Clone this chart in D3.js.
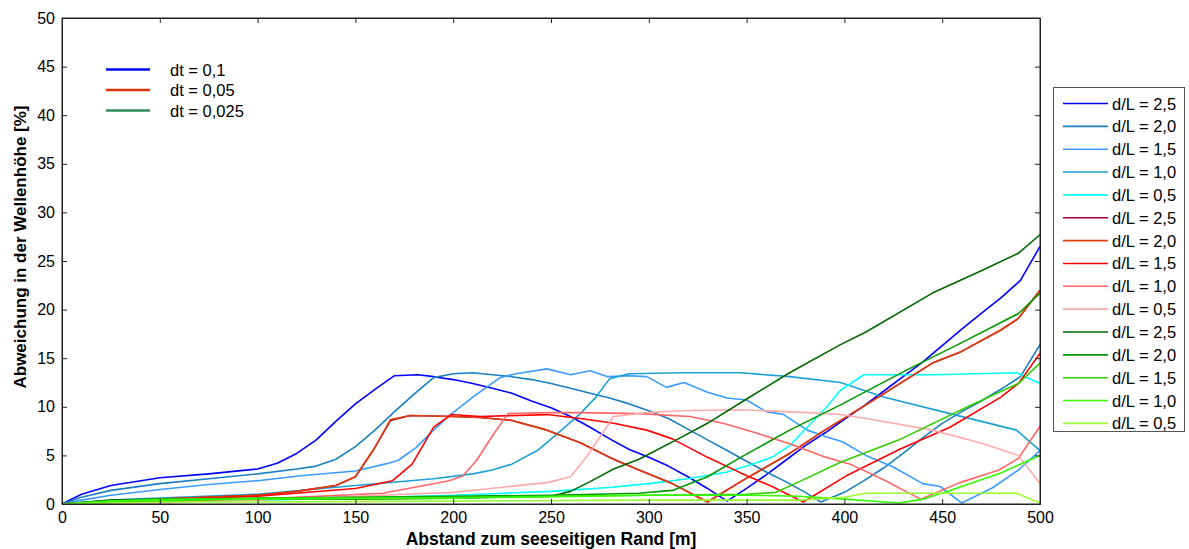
<!DOCTYPE html>
<html><head><meta charset="utf-8">
<script src="https://cdn.jsdelivr.net/npm/d3@7"></script>
<style>
body{margin:0;background:#fff;}
svg{font-family:"Liberation Sans",Arial,sans-serif;}
</style></head>
<body><svg id="c" width="1189" height="549"></svg>
<script>
// ---- data (x in m, y in %) ----
const xTicks = [0,50,100,150,200,250,300,350,400,450,500];
const yTicks = [0,5,10,15,20,25,30,35,40,45,50];
const dtLabels = ["dt = 0,1","dt = 0,05","dt = 0,025"];
const dtColors = ["#0000ff","#e0300c","#2e8b57"];
const seriesLabels = ["d/L = 2,5","d/L = 2,0","d/L = 1,5","d/L = 1,0","d/L = 0,5",
                      "d/L = 2,5","d/L = 2,0","d/L = 1,5","d/L = 1,0","d/L = 0,5",
                      "d/L = 2,5","d/L = 2,0","d/L = 1,5","d/L = 1,0","d/L = 0,5"];
const seriesColors = ["#0000ff","#1a7fc0","#3b9bff","#1ba0d4","#00ffff",
                      "#990033","#e0400f","#ff0000","#ff6666","#ffaaaa",
                      "#006600","#009900","#33cc00","#33ff00","#99ff33"];

// dt = 0,1
const b25 = [[0,0],[10,1.0],[25,1.9],[50,2.7],[75,3.1],[100,3.6],[110,4.2],[120,5.2],[130,6.6],[140,8.5],[150,10.3],[160,11.8],[170,13.2],[182,13.3],[190,13.1],[200,12.8],[210,12.4],[220,11.9],[230,11.4],[240,10.6],[250,9.9],[260,9.0],[270,7.9],[280,6.7],[290,5.6],[300,4.8],[310,3.9],[320,2.8],[330,1.6],[340,0.3],[350,1.6],[360,3.0],[370,4.5],[380,6.0],[390,7.3],[400,8.7],[410,10.1],[420,11.6],[430,13.1],[440,14.6],[450,16.3],[460,18.0],[470,19.6],[480,21.2],[490,23.0],[500,26.5]];
const b20 = [[0,0],[10,0.7],[25,1.4],[50,2.1],[75,2.6],[100,3.1],[120,3.6],[130,3.9],[140,4.6],[150,5.9],[160,7.6],[170,9.5],[180,11.3],[190,13.0],[200,13.4],[210,13.5],[220,13.3],[230,13.1],[240,12.8],[250,12.4],[260,11.9],[270,11.4],[280,10.9],[290,10.3],[300,9.6],[310,8.8],[320,7.7],[330,6.6],[340,5.5],[350,4.4],[360,3.3],[370,2.3],[380,1.2],[388,0.2],[400,1.2],[410,2.4],[420,3.7],[430,5.2],[440,6.8],[450,8.3],[460,9.5],[470,10.6],[480,11.8],[490,13.1],[500,16.4]];
const b15 = [[0,0],[10,0.4],[25,0.9],[50,1.5],[75,2.0],[100,2.4],[122,2.9],[150,3.4],[165,4.1],[172,4.5],[181,5.8],[190,7.6],[198,9.1],[210,11.0],[224,13.0],[232,13.4],[248,13.9],[260,13.3],[270,13.7],[279,13.1],[290,13.2],[299,13.1],[309,12.0],[318,12.5],[330,11.5],[340,10.9],[350,10.7],[360,9.5],[369,9.2],[381,7.6],[391,6.9],[399,6.4],[411,5.0],[425,3.8],[440,2.1],[449,1.8],[460,0.1],[476,1.7],[489,3.5],[500,5.5]];
const b10 = [[0,0],[25,0.4],[50,0.6],[100,1.0],[150,1.9],[190,2.6],[210,3.1],[220,3.5],[230,4.1],[243,5.5],[253,7.2],[265,9.3],[273,11.0],[280,12.9],[290,13.4],[316,13.5],[347,13.5],[372,13.1],[398,12.5],[420,11.0],[454,9.3],[488,7.6],[500,5.5]];
const b05 = [[0,0],[50,0.2],[100,0.4],[150,0.6],[200,0.9],[250,1.3],[280,1.7],[300,2.1],[320,2.6],[340,3.3],[350,3.9],[363,4.8],[372,6.0],[381,7.9],[391,10.0],[398,11.7],[410,13.3],[445,13.3],[488,13.5],[500,12.4]];
// dt = 0,05
const r25 = [[0,0],[50,0.5],[100,0.9],[120,1.3],[140,1.9],[150,2.8],[159,5.5],[168,8.6],[178,9.1],[200,9.0],[214,8.9],[230,8.6],[248,7.6],[265,6.3],[282,4.6],[295,3.5],[312,2.1],[330,0.2],[347,2.3],[372,5.2],[390,7.6],[411,10.2],[445,14.5],[459,15.6],[480,17.9],[489,19.1],[500,22.0]];
const r20 = [[0,0],[50,0.5],[100,0.9],[120,1.3],[140,1.9],[150,2.8],[159,5.5],[168,8.7],[178,9.1],[200,9.0],[214,8.9],[230,8.6],[248,7.6],[265,6.3],[282,4.6],[295,3.5],[312,2.1],[330,0.2],[347,2.3],[372,5.2],[390,7.6],[411,10.2],[445,14.5],[459,15.6],[480,17.9],[489,19.1],[500,22.0]];
const r15 = [[0,0],[50,0.4],[100,0.8],[150,1.6],[169,2.4],[179,4.1],[190,7.9],[199,9.2],[214,9.0],[248,9.2],[265,8.8],[282,8.3],[299,7.6],[312,6.7],[330,4.8],[347,3.2],[363,1.8],[379,0.2],[401,2.9],[428,5.6],[454,7.9],[480,11.0],[489,12.4],[500,15.5]];
const r10 = [[0,0],[50,0.2],[100,0.5],[164,1.1],[198,2.4],[205,2.9],[212,4.5],[220,7.0],[228,9.3],[250,9.4],[265,9.4],[295,9.3],[321,9.0],[338,8.3],[355,7.3],[372,6.2],[389,4.9],[403,4.1],[420,2.5],[439,0.5],[459,2.2],[479,3.5],[489,4.7],[500,8.0]];
const r05 = [[0,0],[50,0.1],[100,0.4],[150,0.8],[200,1.2],[248,2.2],[260,2.8],[268,4.8],[275,6.9],[282,9.0],[299,9.4],[316,9.6],[347,9.7],[381,9.4],[398,9.2],[411,8.8],[445,7.6],[471,6.2],[489,5.0],[500,2.1]];
// dt = 0,025
const g25 = [[0,0],[25,0.4],[50,0.5],[100,0.5],[150,0.5],[200,0.6],[250,0.8],[260,1.3],[270,2.3],[282,3.6],[295,4.6],[316,6.8],[330,8.3],[350,10.8],[372,13.5],[398,16.4],[411,17.7],[445,21.7],[470,24.0],[489,25.8],[500,27.7]];
const g20 = [[0,0],[25,0.2],[50,0.3],[100,0.6],[150,0.7],[200,0.8],[250,0.9],[295,1.1],[312,1.4],[330,2.8],[347,4.8],[372,7.6],[398,10.2],[432,13.8],[460,16.6],[489,19.6],[500,21.7]];
const g15 = [[0,0],[25,0.3],[50,0.5],[100,0.6],[200,0.7],[300,0.9],[350,1.0],[365,1.2],[377,2.3],[398,4.3],[428,6.6],[463,10.0],[489,12.4],[500,14.5]];
const g10 = [[0,0],[25,0.3],[50,0.4],[100,0.5],[200,0.6],[300,0.9],[350,0.9],[377,0.8],[400,0.5],[428,0.1],[440,0.5],[454,1.4],[480,3.2],[500,5.0]];
const g05 = [[0,0],[50,0.2],[100,0.2],[200,0.3],[300,0.4],[377,0.4],[400,0.7],[411,1.1],[488,1.1],[500,0.1]];

const allSeries = [b25,b20,b15,b10,b05,r25,r20,r15,r10,r05,g25,g20,g15,g10,g05];

// ---- layout ----
const svg = d3.select("#c");
const L = 62, R = 1040, T = 18, B = 504;
const x = d3.scaleLinear().domain([0,500]).range([L,R]);
const y = d3.scaleLinear().domain([0,50]).range([B,T]);

// lines
const line = d3.line().x(d=>x(d[0])).y(d=>y(d[1]));
const g = svg.append("g");
allSeries.forEach((s,i)=>{
  g.append("path").datum(s).attr("d",line).attr("fill","none")
   .attr("stroke",seriesColors[i]).attr("stroke-width",1.6).attr("stroke-linejoin","round");
});

// frame
svg.append("rect").attr("x",L).attr("y",T).attr("width",R-L).attr("height",B-T)
  .attr("fill","none").attr("stroke","#222").attr("stroke-width",1);

// axes (ticks inward)
const fs = 16;
const xb = svg.append("g").attr("transform",`translate(0,${B})`)
  .call(d3.axisBottom(x).tickValues(xTicks).tickSize(-5).tickPadding(8).tickFormat(d3.format("d")));
const xt = svg.append("g").attr("transform",`translate(0,${T})`)
  .call(d3.axisTop(x).tickValues(xTicks).tickSize(-5).tickFormat(""));
const yl = svg.append("g").attr("transform",`translate(${L},0)`)
  .call(d3.axisLeft(y).tickValues(yTicks).tickSize(-5).tickPadding(7).tickFormat(d3.format("d")));
const yr = svg.append("g").attr("transform",`translate(${R},0)`)
  .call(d3.axisRight(y).tickValues(yTicks).tickSize(-5).tickFormat(""));
[xb,xt,yl,yr].forEach(a=>{
  a.select(".domain").attr("stroke","#222");
  a.selectAll(".tick line").attr("stroke","#222");
  a.selectAll("text").attr("font-size",fs).attr("fill","#000").attr("font-family","Liberation Sans, Arial, sans-serif");
});

// axis titles
svg.append("text").attr("x",(L+R)/2).attr("y",545).attr("text-anchor","middle")
  .attr("font-size",17.5).attr("font-weight","bold").text("Abstand zum seeseitigen Rand [m]");
svg.append("text").attr("transform",`translate(26,${(T+B)/2 - 14}) rotate(-90)`).attr("text-anchor","middle")
  .attr("font-size",17).attr("font-weight","bold").text("Abweichung in der Wellenhöhe [%]");

// inner legend (dt)
dtLabels.forEach((t,i)=>{
  const yy = 69.5 + i*20.5;
  svg.append("line").attr("x1",106).attr("x2",150).attr("y1",yy).attr("y2",yy)
    .attr("stroke",dtColors[i]).attr("stroke-width",2.5);
  svg.append("text").attr("x",170).attr("y",yy+6).attr("font-size",16.5).text(t);
});

// right legend
const lg = svg.append("g");
lg.append("rect").attr("x",1053.5).attr("y",87.5).attr("width",131).attr("height",344)
  .attr("fill","#fff").attr("stroke","#555").attr("stroke-width",1);
seriesLabels.forEach((t,i)=>{
  const yy = 103.5 + i*22.85;
  lg.append("line").attr("x1",1063).attr("x2",1108).attr("y1",yy).attr("y2",yy)
    .attr("stroke",seriesColors[i]).attr("stroke-width",1.6);
  lg.append("text").attr("x",1112).attr("y",yy+6).attr("font-size",16.5).text(t);
});
</script></body></html>
